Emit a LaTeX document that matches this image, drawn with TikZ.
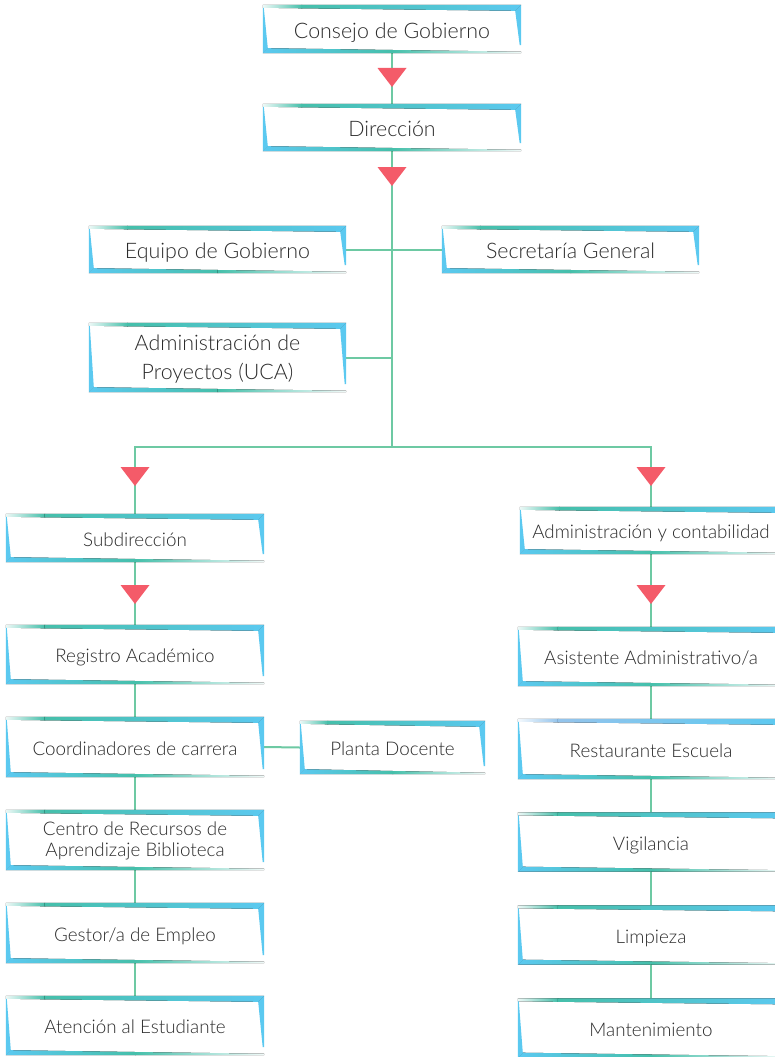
\documentclass[tikz,border=0pt]{standalone}
\usepackage{fontspec}
\setmainfont{Lato}[UprightFont=* Light]
\usetikzlibrary{calc}
\definecolor{fb}{HTML}{5BC9F0}
\definecolor{ft}{HTML}{45BFAA}
\definecolor{fl}{HTML}{94C4EC}
\definecolor{ln}{HTML}{6DC9A3}
\definecolor{tr}{HTML}{F45B69}
\definecolor{tx}{HTML}{2B2B2B}
\newcommand\orgframe[2][ft]{%
 % top band: fade -> teal, then teal -> blue
 \fill[left color=#1!10, right color=#1] let \p1=(#2.north west),\p2=(#2.south east),\p3=($(#2.north west)!0.15!(#2.north east)$) in
   (\x1,\y1) -- (\x3+0.5pt,\y1) -- (\x3+0.5pt,\y1-3.5pt) -- (\x1,\y1-3pt) -- cycle;
 \fill[left color=#1, right color=fb] let \p1=(#2.north west),\p2=(#2.south east),\p3=($(#2.north west)!0.15!(#2.north east)$) in
   (\x3,\y1) -- (\x2,\y1) -- (\x2-6pt,\y1-6pt) -- (\x3,\y1-3.5pt) -- cycle;
 % right wedge
 \fill[fb] let \p1=(#2.north west),\p2=(#2.south east) in
   (\x2,\y1) -- (\x2,\y2+8pt) -- (\x2-1.5pt,\y2+8pt) -- (\x2-6pt,\y1-6pt) -- cycle;
 % bottom band: blue -> teal, then teal -> fade
 \fill[left color=fb, right color=ft] let \p1=(#2.north west),\p2=(#2.south east),\p4=($(#2.south west)!0.5!(#2.south east)$) in
   (\x1,\y2) -- (\x4+0.5pt,\y2) -- (\x4+0.5pt,\y2+3.2pt) -- (\x1+5pt,\y2+5pt) -- cycle;
 \fill[left color=ft, right color=ft!8] let \p1=(#2.north west),\p2=(#2.south east),\p4=($(#2.south west)!0.5!(#2.south east)$) in
   (\x4,\y2) -- (\x2,\y2) -- (\x2,\y2+1.5pt) -- (\x4,\y2+3.2pt) -- cycle;
 % left wedge
 \fill[fb] let \p1=(#2.north west),\p2=(#2.south east) in
   (\x1,\y1-3pt) -- (\x1+1pt,\y1-3pt) -- (\x1+5pt,\y2+5pt) -- (\x1,\y2) -- cycle;
}
\newcommand\redtri[1]{\fill[tr] ($(#1)+(-14.5,0)$) -- ($(#1)+(14.5,0)$) -- ($(#1)+(0,19)$) -- cycle;}
\newcommand\twolines[2]{\begin{tabular}[b]{@{}c@{}}#1\\#2\end{tabular}}
\begin{document}
\begin{tikzpicture}[x=1pt,y=-1pt,
  obox/.style={rectangle, inner sep=0pt, text=tx},
  big/.style={obox, font=\fontsize{21.4}{29}\selectfont, minimum width=257pt, text height=18pt, text depth=0pt},
  small/.style={obox, font=\fontsize{18.8}{21}\selectfont, minimum width=258pt, minimum height=59pt, text height=16.5pt, text depth=0pt},
  conn/.style={draw=ln, line width=2pt}]
\fill[white] (0,0) rectangle (775,1057);
\useasboundingbox (0,0) rectangle (775,1057);
% nodes
\node[big, minimum width=258pt, minimum height=48pt, text height=19pt] (cg) at (392,29) {Consejo de Gobierno};
\node[big, minimum width=258pt, minimum height=47pt] (dir) at (392,127.5) {Dirección};
\node[big, minimum height=47pt] (eq) at (217.5,249.5) {Equipo de Gobierno};
\node[big, minimum height=47pt] (sec) at (570.5,249.5) {Secretaría General};
\node[big, minimum height=69pt, text height=43pt] (ap) at (217.5,357.5) {\twolines{Administración de}{Proyectos (UCA)}};
\node[small, minimum height=48pt, text height=17pt] (sub) at (135,538) {Subdirección};
\node[small, minimum width=262pt, minimum height=47pt] (adm) at (651,530.5) {Administración y contabilidad};
\node[small] (reg) at (135,654.5) {Registro Académico};
\node[small, minimum height=60pt] (coord) at (135,747) {Coordinadores de carrera};
\node[small, minimum width=185pt, minimum height=53pt] (pd) at (392.5,747.5) {Planta Docente};
\node[small, minimum height=60pt, text height=33pt] (crab) at (135,840) {\twolines{Centro de Recursos de}{Aprendizaje Biblioteca}};
\node[small, minimum height=60pt] (ges) at (135,933) {Gestor/a de Empleo};
\node[small] (aten) at (135,1025.5) {Atención al Estudiante};
\node[small, minimum width=266pt] (asis) at (651,656.5) {Asistente Administrativo/a};
\node[small, minimum width=266pt, minimum height=60pt] (rest) at (651,749) {Restaurante Escuela};
\node[small, minimum width=266pt] (vig) at (651,842) {Vigilancia};
\node[small, minimum width=266pt] (lim) at (651,935) {Limpieza};
\node[small, minimum width=266pt] (mant) at (651,1028) {Mantenimiento};
% connectors
\coordinate (j) at (392,447);
\draw[conn] (cg.south) -- (dir.north);
\draw[conn] (dir.south) -- (j);
\draw[conn] (eq.east) -- (sec.west);
\draw[conn] (ap.east) -- (ap.east -| j);
\draw[conn] (sub.north) |- (j) -| (adm.north);
\draw[conn] (sub.south) -- (reg.north);
\draw[conn] (reg.south) -- (coord.north);
\draw[conn] (coord.east) -- (pd.west);
\draw[conn] (coord.south) -- (crab.north);
\draw[conn] (crab.south) -- (ges.north);
\draw[conn] (ges.south) -- (aten.north);
\draw[conn] (adm.south) -- (asis.north);
\draw[conn] (asis.south) -- (rest.north);
\draw[conn] (rest.south) -- (vig.north);
\draw[conn] (vig.south) -- (lim.north);
\draw[conn] (lim.south) -- (mant.north);
% arrowheads
\coordinate (t1) at (392,68);
\coordinate (t2) at (392,167);
\coordinate (t3) at (135,467);
\coordinate (t4) at (651,467);
\coordinate (t5) at (135,585);
\coordinate (t6) at (651,585);
\redtri{t1}\redtri{t2}\redtri{t3}\redtri{t4}\redtri{t5}\redtri{t6}
% frames
\orgframe{cg}\orgframe{dir}\orgframe{eq}\orgframe{sec}\orgframe{ap}
\orgframe{sub}\orgframe{adm}\orgframe{reg}\orgframe{coord}\orgframe{pd}
\orgframe{crab}\orgframe{ges}\orgframe{aten}\orgframe{asis}\orgframe[fl]{rest}
\orgframe{vig}\orgframe{lim}\orgframe{mant}
\end{tikzpicture}
\end{document}
